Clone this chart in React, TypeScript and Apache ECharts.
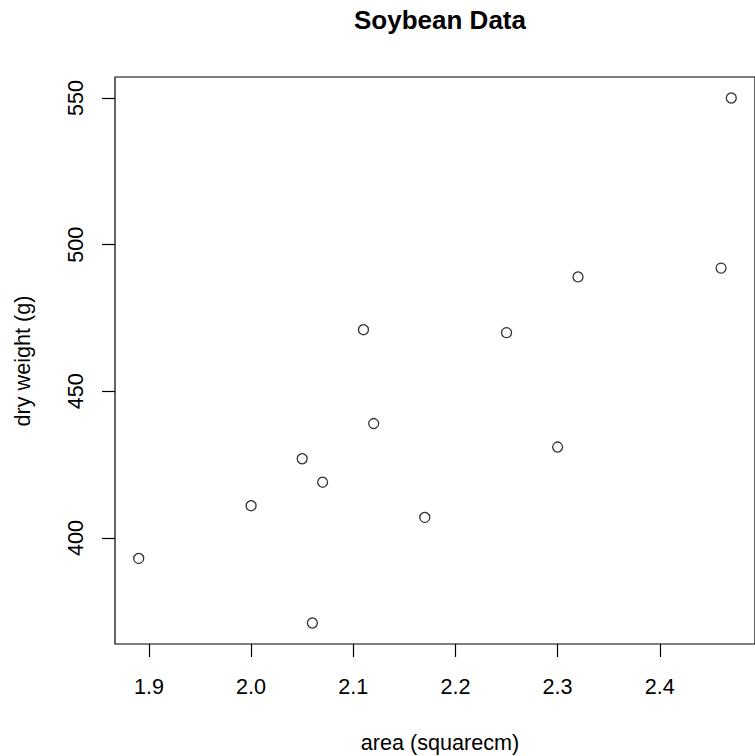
import React, { useEffect, useRef } from "react";
import * as echarts from "echarts";

const area = [1.89, 2.0, 2.05, 2.06, 2.07, 2.11, 2.12, 2.17, 2.25, 2.3, 2.32, 2.46, 2.47];
const dryWeight = [393, 411, 427, 371, 419, 471, 439, 407, 470, 431, 489, 492, 550];
const xTicks = [1.9, 2.0, 2.1, 2.2, 2.3, 2.4];
const yTicks = [400, 450, 500, 550];

const FONT = "'Liberation Sans', Arial, Helvetica, sans-serif";

export default function App() {
  const ref = useRef<HTMLDivElement>(null);
  useEffect(() => {
    if (!ref.current) return;
    const chart = echarts.init(ref.current, null, { renderer: "svg" });
    const xr = Math.max(...area) - Math.min(...area);
    const yr = Math.max(...dryWeight) - Math.min(...dryWeight);
    const xmin = Math.min(...area) - 0.04 * xr;
    const xmax = Math.max(...area) + 0.04 * xr;
    const ymin = Math.min(...dryWeight) - 0.04 * yr;
    const ymax = Math.max(...dryWeight) + 0.04 * yr;
    chart.setOption({
      animation: false,
      backgroundColor: "#ffffff",
      grid: {
        left: 115,
        top: 77,
        width: 649,
        height: 567,
        show: true,
        borderColor: "#000000",
        borderWidth: 1.2,
        backgroundColor: "transparent",
      },
      xAxis: {
        type: "value",
        min: xmin,
        max: xmax,
        axisLine: { show: false },
        splitLine: { show: false },
        axisTick: {
          show: true,
          inside: false,
          length: 13,
          customValues: xTicks,
          lineStyle: { color: "#000", width: 1.2 },
        },
        axisLabel: {
          customValues: xTicks,
          formatter: (v: number) => v.toFixed(1),
          color: "#000",
          fontFamily: FONT,
          fontSize: 21.6,
          margin: 31,
        },
      },
      yAxis: {
        type: "value",
        min: ymin,
        max: ymax,
        axisLine: { show: false },
        splitLine: { show: false },
        axisTick: {
          show: true,
          inside: false,
          length: 13,
          customValues: yTicks,
          lineStyle: { color: "#000", width: 1.2 },
        },
        axisLabel: {
          customValues: yTicks,
          formatter: (v: number) => String(v),
          color: "#000",
          fontFamily: FONT,
          fontSize: 21.6,
          rotate: 90,
          margin: 29,
        },
      },
      series: [
        {
          type: "scatter",
          data: area.map((a, i) => [a, dryWeight[i]]),
          symbol: "circle",
          symbolSize: 10,
          itemStyle: { color: "transparent", borderColor: "#000", borderWidth: 1.3 },
          clip: false,
        },
      ],
      graphic: [
        {
          type: "text",
          x: 440,
          y: 20,
          style: {
            text: "Soybean Data",
            fontFamily: FONT,
            fontSize: 26,
            fontWeight: "bold",
            fill: "#000",
            align: "center",
            verticalAlign: "middle",
          },
        },
        {
          type: "text",
          x: 440,
          y: 742,
          style: {
            text: "area (squarecm)",
            fontFamily: FONT,
            fontSize: 21.6,
            fill: "#000",
            align: "center",
            verticalAlign: "middle",
          },
        },
        {
          type: "text",
          x: 22,
          y: 361,
          rotation: Math.PI / 2,
          style: {
            text: "dry weight (g)",
            fontFamily: FONT,
            fontSize: 21.6,
            fill: "#000",
            align: "center",
            verticalAlign: "middle",
          },
        },
      ],
    });
    return () => chart.dispose();
  }, []);
  return <div ref={ref} style={{ width: 755, height: 756, position: "absolute", left: 0, top: 0 }} />;
}
